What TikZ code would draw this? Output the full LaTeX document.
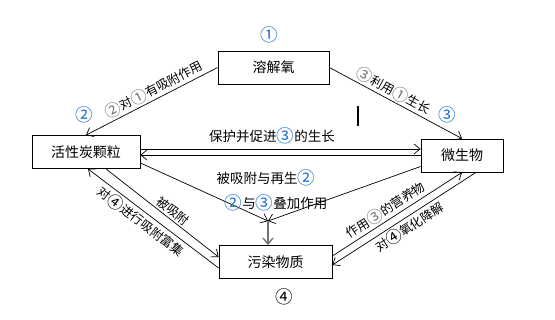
\documentclass[tikz,border=0pt]{standalone}
\usepackage{fontspec}
\setmainfont{Noto Sans CJK SC}
\usepackage{xcolor}
\usetikzlibrary{arrows.meta, calc}

\definecolor{numblue}{RGB}{20,110,210}
\newcommand{\knum}[1]{\raisebox{-0.1em}{\scalebox{1.3}{#1}}}
\newcommand{\bnum}[1]{\textcolor{numblue}{\knum{#1}}}
\newcommand{\gnum}[1]{\textcolor{black!55}{\knum{#1}}}

\begin{document}
\begin{tikzpicture}[x=1pt, y=-1pt,
    >={Straight Barb[length=6pt,width=10pt]},
    box/.style={draw, line width=0.8pt, minimum height=33pt, inner sep=0pt, font=\fontsize{14}{16}\selectfont},
    lbl/.style={font=\fontsize{12.5}{14}\selectfont, sloped, inner sep=2pt},
    txt/.style={font=\fontsize{13.5}{15}\selectfont, inner sep=0pt},
    link/.style={->, line width=0.7pt}]
        \useasboundingbox (0,0) rectangle (555,320);

        % boxes
        \node[box, minimum width=111pt] (O) at (273.5,67.5) {溶解氧};
        \node[box, minimum width=108pt] (C) at (86,152) {活性炭颗粒};
        \node[box, minimum width=82pt]  (M) at (462,155.5) {微生物};
        \node[box, minimum width=113pt] (P) at (275.5,262) {污染物质};

        % numbers
        \node[txt] (n1) at (269,35) {\bnum{①}};
        \node[txt] (n2) at (84,115) {\bnum{②}};
        \node[txt] (n3) at (447,115) {\bnum{③}};
        \node[txt] (n4) at (284,297) {\knum{④}};

        % oxygen
        \draw[link] (O.west) -- node[lbl, above, pos=0.45] {\gnum{②}对\gnum{①}有吸附作用} (C.north);
        \draw[link] (O.east) -- node[lbl, above, pos=0.45] {\gnum{③}利用\gnum{①}生长} (M.north);

        % carbon <-> microbes
        \draw[link] ([yshift=3pt]C.east) -- ([yshift=3pt]C.east -| M.west);
        \draw[link] ([yshift=-3pt]C.east -| M.west) -- ([yshift=-3pt]C.east);
        \node[txt] (t1) at (272,136) {保护并促进\bnum{③}的生长};

        % joint effect
        \coordinate (J) at (268,221);
        \draw[link] ([yshift=-11pt]C.east) -- (J);
        \draw[link] ([yshift=-11pt]M.west) -- (J);
        \draw[link, black!55, line width=1.4pt] (J) -- (J |- P.north);
        \node[txt] (t2) at (266,178) {被吸附与再生\bnum{②}};
        \node[txt] (t3) at (276,203) {\bnum{②}与\bnum{③}叠加作用};

        % carbon <-> pollutant
        \draw[link] ([xshift=20pt]C.south) -- node[lbl, above, pos=0.55] {被吸附} ([yshift=5pt]P.west);
        \draw[link] ([yshift=-6pt]P.west) -- node[lbl, below, pos=0.55] {对\knum{④}进行吸附富集} ([xshift=2pt]C.south);

        % pollutant <-> microbes
        \draw[link] ([yshift=6pt]P.east) -- node[lbl, above, pos=0.45] {作用\gnum{③}的营养物} (M.south);
        \draw[link] ([xshift=14pt]M.south) -- node[lbl, below, pos=0.5] {对\knum{④}氧化降解} ([yshift=-3pt]P.east);

        % cursor mark
        \draw[line width=2pt] (358,106) -- (358,126);
      \end{tikzpicture}
\end{document}
